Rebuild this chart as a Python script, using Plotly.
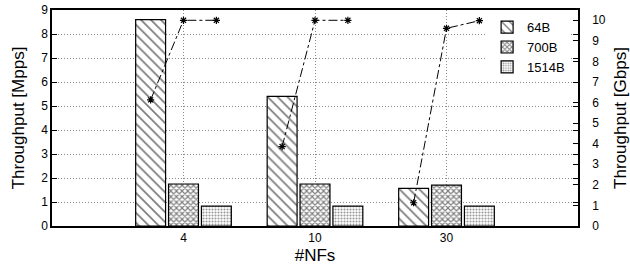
import plotly.graph_objects as go

# ---- data ----
categories = ["4", "10", "30"]
sizes = ["64B", "700B", "1514B"]
mpps_64 = [8.6, 5.4, 1.57]
mpps_700 = [1.75, 1.75, 1.70]
mpps_1514 = [0.83, 0.83, 0.83]
gbps_64 = [6.13, 3.86, 1.13]
gbps_700 = [10.0, 10.0, 9.61]
gbps_1514 = [10.0, 10.0, 9.98]

# ---- layout helpers ----
pos = [1, 2, 3]
offsets = [-0.25, 0.0, 0.25]
FONT = "Liberation Sans, Arial, Helvetica, sans-serif"
GRID = "#8a8a8a"

fig = go.Figure()

patterns = {
    "64B": dict(shape="\\", size=7, solidity=0.25, fgcolor="black", bgcolor="white", fillmode="overlay"),
    "700B": dict(shape="x", size=4, solidity=0.5, fgcolor="black", bgcolor="white", fillmode="overlay"),
    "1514B": dict(shape=".", size=3, solidity=0.4, fgcolor="#333", bgcolor="white", fillmode="overlay"),
}
for name, vals in zip(sizes, [mpps_64, mpps_700, mpps_1514]):
    fig.add_trace(go.Bar(
        x=pos, y=vals, name=name, yaxis="y",
        marker=dict(color="white", line=dict(color="black", width=1.2),
                    pattern=patterns[name]),
    ))

# Gbps lines per group
for gi, p in enumerate(pos):
    xs = [p + o for o in offsets]
    ys = [gbps_64[gi], gbps_700[gi], gbps_1514[gi]]
    fig.add_trace(go.Scatter(
        x=xs, y=ys, yaxis="y2", mode="lines+markers", showlegend=False,
        line=dict(color="black", width=1, dash="dashdot"),
        marker=dict(symbol="asterisk-open", size=6, color="black",
                    line=dict(color="black", width=1.2)),
    ))

fig.update_layout(
    width=630, height=271,
    margin=dict(l=52, r=52, t=10, b=45, autoexpand=False),
    paper_bgcolor="white", plot_bgcolor="white",
    font=dict(family=FONT, size=12, color="black"),
    barmode="group", bargap=0.25, bargroupgap=0.09,
    xaxis=dict(
        range=[0, 4], tickvals=pos, ticktext=categories, automargin=False,
        showline=True, linecolor="black", linewidth=1.5, mirror=True,
        showgrid=True, gridcolor=GRID, griddash="1px,2px", gridwidth=1,
        ticks="", zeroline=False,
        title=dict(text="#NFs", font=dict(size=17), standoff=5),
        tickfont=dict(size=12),
    ),
    yaxis=dict(
        range=[0, 9], dtick=1, showline=True, linecolor="black", linewidth=1.5,
        mirror="ticks", ticks="inside", ticklen=5, tickcolor="black",
        showgrid=True, gridcolor=GRID, griddash="1px,2px", gridwidth=1,
        zeroline=False, automargin=False,
        title=dict(text="Throughput [Mpps]", font=dict(size=17), standoff=12),
        tickfont=dict(size=12),
    ),
    yaxis2=dict(
        range=[0, 10.5], dtick=1, overlaying="y", side="right",
        showline=True, linecolor="black", linewidth=1.5, automargin=False,
        ticks="inside", ticklen=5, tickcolor="black", showgrid=False,
        zeroline=False, ticklabelstandoff=10,
        title=dict(text="Throughput [Gbps]", font=dict(size=17), standoff=14),
        tickfont=dict(size=12),
    ),
    legend=dict(
        x=0.985, y=0.99, xanchor="right", yanchor="top",
        bgcolor="white", borderwidth=0, font=dict(size=13),
        tracegroupgap=0, itemwidth=30,
    ),
)

fig.write_html("out.html", config={"displayModeBar": False},
               post_script="document.body.style.margin='0px';")
